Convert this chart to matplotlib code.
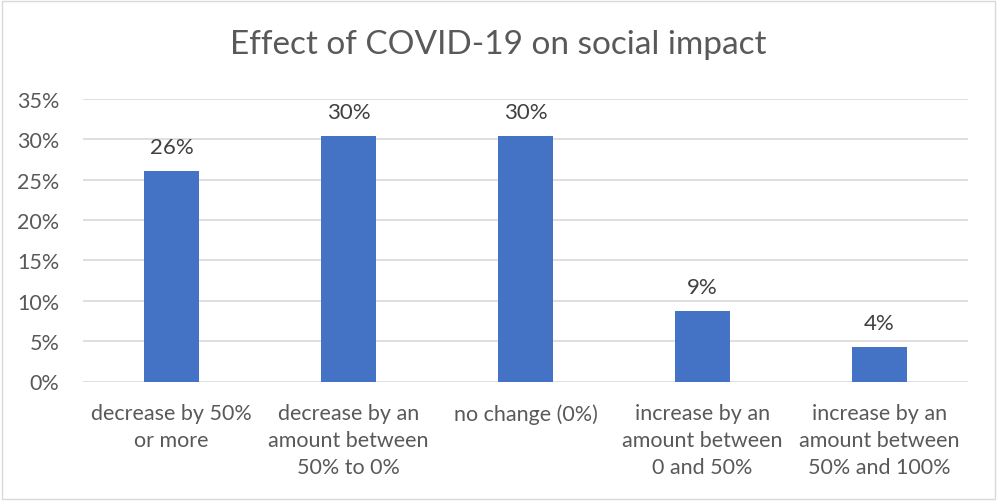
import matplotlib.pyplot as plt
from matplotlib.ticker import PercentFormatter, MultipleLocator
from matplotlib.patches import Rectangle

categories = [
    "decrease by 50%\nor more",
    "decrease by an\namount between\n50% to 0%",
    "no change (0%)",
    "increase by an\namount between\n0 and 50%",
    "increase by an\namount between\n50% and 100%",
]
shares = [0.261, 0.304, 0.304, 0.087, 0.043]

plt.rcParams['font.family'] = ['Lato', 'DejaVu Sans']
text_color = '#595959'
bar_color = '#4472C4'
grid_color = '#D9D9D9'

fig = plt.figure(figsize=(9.97, 5.02), dpi=100)
ax = fig.add_axes([83 / 997, 1 - 382.5 / 502, 885 / 997, 282.5 / 502])

x = range(len(categories))
bars = ax.bar(x, shares, width=0.316, color=bar_color, zorder=3)
for rect, v in zip(bars, shares):
    ax.annotate(f"{v:.0%}", (rect.get_x() + rect.get_width() / 2, v),
                xytext=(0, 10), textcoords='offset points',
                ha='center', va='bottom', fontsize=16, color='#404040')

ax.set_xlim(-0.5, len(categories) - 0.5)
ax.set_ylim(0, 0.35)
ax.yaxis.set_major_locator(MultipleLocator(0.05))
ax.yaxis.set_major_formatter(PercentFormatter(1.0, decimals=0))
ax.grid(axis='y', color=grid_color, linewidth=1.2, zorder=0)
for s in ax.spines.values():
    s.set_visible(False)
ax.tick_params(axis='both', length=0, labelsize=15.5, colors=text_color)
ax.tick_params(axis='y', pad=17)
ax.tick_params(axis='x', pad=15.5)
ax.set_xticks(list(x))
ax.set_xticklabels(categories, linespacing=1.45)

fig.text(0.5, 1 - 45 / 502, "Effect of COVID-19 on social impact",
         ha='center', va='center', fontsize=24, color=text_color)

fig.patches.append(Rectangle((0.002, 0.003), 0.996, 0.994, transform=fig.transFigure,
                             fill=False, edgecolor='#D9D9D9', linewidth=1))

fig.savefig('out.png', dpi=100)
